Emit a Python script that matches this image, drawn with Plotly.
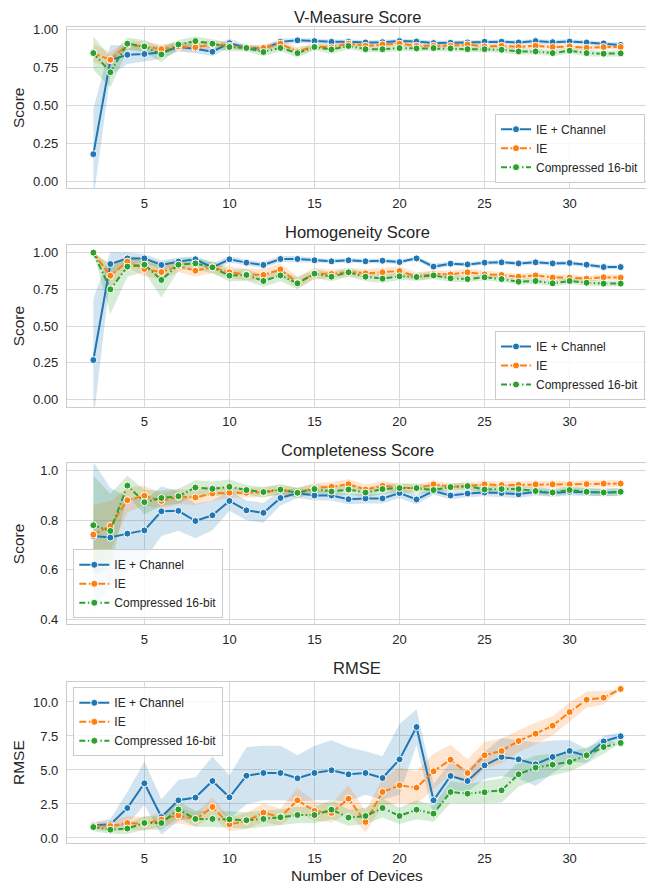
import plotly.graph_objects as go

devices = list(range(2, 34))
series_names = ["IE + Channel", "IE", "Compressed 16-bit"]
panel_titles = ["V-Measure Score", "Homogeneity Score", "Completeness Score", "RMSE"]
y_labels = ["Score", "Score", "Score", "RMSE"]
x_label = "Number of Devices"

# ---- V-Measure ----
v_ie_channel = [0.18, 0.80, 0.835, 0.84, 0.85, 0.886, 0.875, 0.855, 0.912, 0.88, 0.875, 0.92, 0.93, 0.925, 0.92, 0.92,
                0.916, 0.918, 0.925, 0.922, 0.912, 0.914, 0.916, 0.921, 0.921, 0.916, 0.925, 0.918, 0.922, 0.916, 0.91, 0.90]
v_ie = [0.846, 0.802, 0.901, 0.89, 0.872, 0.89, 0.884, 0.903, 0.894, 0.88, 0.88, 0.908, 0.857, 0.89, 0.884, 0.908,
        0.894, 0.903, 0.908, 0.894, 0.894, 0.894, 0.903, 0.89, 0.894, 0.886, 0.894, 0.886, 0.89, 0.881, 0.886, 0.886]
v_comp = [0.846, 0.72, 0.908, 0.89, 0.837, 0.903, 0.925, 0.908, 0.886, 0.88, 0.853, 0.88, 0.846, 0.886, 0.87, 0.893,
          0.872, 0.872, 0.879, 0.877, 0.879, 0.877, 0.872, 0.872, 0.868, 0.857, 0.857, 0.846, 0.862, 0.846, 0.842, 0.844]
v_ie_channel_ci = [0.30, 0.10, 0.06, 0.05, 0.04, 0.03, 0.03, 0.03, 0.03, 0.02, 0.02, 0.02, 0.015, 0.015, 0.015, 0.015,
                   0.015, 0.015, 0.015, 0.015, 0.015, 0.015, 0.015, 0.015, 0.015, 0.015, 0.015, 0.015, 0.015, 0.015, 0.015, 0.015]
v_ie_ci = [0.06, 0.05, 0.03, 0.03, 0.03, 0.03, 0.03, 0.03, 0.02, 0.02, 0.02, 0.02, 0.03, 0.02, 0.02, 0.02,
           0.015, 0.015, 0.015, 0.015, 0.015, 0.015, 0.015, 0.015, 0.015, 0.015, 0.015, 0.015, 0.015, 0.015, 0.015, 0.015]
v_comp_ci = [0.11, 0.10, 0.04, 0.04, 0.05, 0.03, 0.03, 0.03, 0.03, 0.02, 0.03, 0.02, 0.03, 0.02, 0.03, 0.02,
             0.02, 0.02, 0.02, 0.02, 0.02, 0.02, 0.02, 0.02, 0.02, 0.02, 0.02, 0.02, 0.02, 0.02, 0.02, 0.02]

# ---- Homogeneity ----
h_ie_channel = [0.268, 0.923, 0.961, 0.961, 0.916, 0.939, 0.955, 0.90, 0.955, 0.932, 0.916, 0.957, 0.957, 0.948, 0.941, 0.948,
                0.941, 0.945, 0.936, 0.961, 0.905, 0.925, 0.92, 0.932, 0.934, 0.927, 0.934, 0.927, 0.93, 0.918, 0.902, 0.902]
h_ie = [1.0, 0.843, 0.939, 0.889, 0.868, 0.909, 0.877, 0.90, 0.866, 0.852, 0.848, 0.886, 0.795, 0.857, 0.855, 0.868,
        0.859, 0.866, 0.875, 0.836, 0.855, 0.852, 0.866, 0.852, 0.848, 0.836, 0.845, 0.830, 0.830, 0.823, 0.832, 0.830]
h_comp = [1.0, 0.75, 0.905, 0.918, 0.814, 0.918, 0.927, 0.90, 0.843, 0.848, 0.807, 0.845, 0.791, 0.857, 0.836, 0.866,
          0.836, 0.823, 0.839, 0.834, 0.845, 0.825, 0.820, 0.832, 0.820, 0.802, 0.807, 0.791, 0.807, 0.795, 0.789, 0.789]
h_ie_channel_ci = [0.42, 0.08, 0.04, 0.03, 0.03, 0.03, 0.02, 0.03, 0.02, 0.02, 0.02, 0.02, 0.02, 0.015, 0.015, 0.015,
                   0.015, 0.015, 0.015, 0.015, 0.02, 0.015, 0.015, 0.015, 0.015, 0.015, 0.015, 0.015, 0.015, 0.015, 0.015, 0.015]
h_ie_ci = [0.0, 0.08, 0.04, 0.05, 0.05, 0.04, 0.04, 0.04, 0.04, 0.04, 0.04, 0.04, 0.04, 0.04, 0.03, 0.03,
           0.03, 0.03, 0.03, 0.03, 0.025, 0.025, 0.025, 0.025, 0.02, 0.02, 0.02, 0.02, 0.02, 0.02, 0.02, 0.02]
h_comp_ci = [0.0, 0.17, 0.07, 0.05, 0.12, 0.04, 0.04, 0.04, 0.04, 0.04, 0.04, 0.04, 0.04, 0.03, 0.03, 0.03,
             0.03, 0.03, 0.025, 0.025, 0.025, 0.025, 0.02, 0.02, 0.02, 0.02, 0.02, 0.02, 0.02, 0.02, 0.02, 0.02]

# ---- Completeness ----
c_ie_channel = [0.736, 0.73, 0.746, 0.759, 0.836, 0.838, 0.797, 0.82, 0.878, 0.84, 0.83, 0.89, 0.91, 0.90, 0.90, 0.885,
                0.888, 0.888, 0.91, 0.884, 0.918, 0.90, 0.908, 0.912, 0.91, 0.905, 0.915, 0.91, 0.915, 0.913, 0.912, 0.913]
c_ie = [0.742, 0.777, 0.881, 0.899, 0.878, 0.895, 0.892, 0.908, 0.911, 0.911, 0.912, 0.924, 0.911, 0.931, 0.935, 0.946,
        0.924, 0.939, 0.932, 0.928, 0.945, 0.935, 0.938, 0.945, 0.942, 0.943, 0.945, 0.945, 0.945, 0.946, 0.948, 0.948]
c_comp = [0.78, 0.757, 0.94, 0.873, 0.89, 0.897, 0.932, 0.927, 0.935, 0.922, 0.914, 0.924, 0.911, 0.926, 0.916, 0.924,
          0.912, 0.926, 0.93, 0.93, 0.922, 0.934, 0.938, 0.924, 0.926, 0.926, 0.918, 0.912, 0.922, 0.915, 0.912, 0.915]
c_ie_channel_ci = [0.30, 0.20, 0.15, 0.12, 0.10, 0.08, 0.07, 0.06, 0.04, 0.04, 0.04, 0.03, 0.02, 0.02, 0.02, 0.02,
                   0.02, 0.02, 0.02, 0.02, 0.015, 0.015, 0.015, 0.015, 0.015, 0.015, 0.015, 0.015, 0.015, 0.015, 0.015, 0.015]
c_ie_ci = [0.12, 0.10, 0.05, 0.04, 0.03, 0.03, 0.03, 0.03, 0.02, 0.02, 0.02, 0.02, 0.02, 0.02, 0.02, 0.02,
           0.02, 0.02, 0.015, 0.015, 0.015, 0.015, 0.015, 0.015, 0.015, 0.015, 0.015, 0.015, 0.015, 0.015, 0.015, 0.015]
c_comp_ci = [0.20, 0.15, 0.04, 0.05, 0.03, 0.03, 0.03, 0.03, 0.03, 0.02, 0.02, 0.02, 0.02, 0.02, 0.02, 0.02,
             0.02, 0.02, 0.02, 0.02, 0.015, 0.015, 0.015, 0.015, 0.015, 0.015, 0.015, 0.015, 0.015, 0.015, 0.015, 0.015]

# ---- RMSE ----
r_ie_channel = [0.93, 1.0, 2.2, 4.02, 1.54, 2.77, 2.97, 4.19, 2.99, 4.58, 4.78, 4.78, 4.39, 4.78, 4.98, 4.68,
                4.78, 4.41, 5.78, 8.16, 2.77, 4.56, 4.19, 5.34, 5.96, 5.78, 5.42, 5.96, 6.4, 6.03, 7.1, 7.48]
r_ie = [0.88, 0.88, 1.1, 1.05, 1.35, 1.67, 1.35, 2.28, 1.0, 1.25, 1.86, 1.54, 2.77, 1.99, 1.84, 2.89,
        1.18, 3.38, 3.87, 3.7, 4.9, 5.76, 4.78, 6.08, 6.4, 7.13, 7.67, 8.26, 9.26, 10.17, 10.32, 10.96]
r_comp = [0.8, 0.61, 0.69, 1.1, 1.1, 2.1, 1.4, 1.4, 1.37, 1.3, 1.4, 1.52, 1.69, 1.69, 2.08, 1.5,
          1.62, 2.2, 1.62, 2.08, 1.79, 3.38, 3.26, 3.36, 3.5, 4.68, 5.17, 5.39, 5.59, 6.08, 6.69, 6.99]
r_ie_channel_ci = [0.2, 0.4, 1.2, 1.6, 1.3, 1.5, 1.5, 1.8, 1.6, 2.1, 2.0, 2.0, 1.7, 2.0, 2.2, 2.0,
                   1.6, 1.6, 2.6, 1.3, 1.2, 1.0, 0.8, 1.0, 1.4, 1.4, 1.6, 1.2, 0.8, 0.5, 0.4, 0.3]
r_ie_ci = [0.3, 0.4, 0.5, 0.5, 0.5, 0.6, 0.5, 0.7, 0.5, 0.6, 0.7, 0.6, 0.9, 0.7, 0.7, 1.0,
           0.8, 1.0, 1.3, 1.2, 1.3, 1.1, 1.0, 1.0, 0.9, 0.8, 0.8, 0.7, 0.7, 0.6, 0.5, 0.0]
r_comp_ci = [0.3, 0.3, 0.4, 0.5, 0.5, 0.6, 0.6, 0.6, 0.6, 0.6, 0.6, 0.6, 0.6, 0.6, 0.7, 0.6,
             0.6, 0.7, 0.6, 0.7, 0.6, 0.8, 0.7, 0.8, 0.9, 0.9, 0.9, 0.8, 0.7, 0.6, 0.5, 0.0]

panels = [
    ([v_ie_channel, v_ie, v_comp], [v_ie_channel_ci, v_ie_ci, v_comp_ci]),
    ([h_ie_channel, h_ie, h_comp], [h_ie_channel_ci, h_ie_ci, h_comp_ci]),
    ([c_ie_channel, c_ie, c_comp], [c_ie_channel_ci, c_ie_ci, c_comp_ci]),
    ([r_ie_channel, r_ie, r_comp], [r_ie_channel_ci, r_ie_ci, r_comp_ci]),
]

colors = ["#1f77b4", "#ff7f0e", "#2ca02c"]
fills = ["rgba(31,119,180,0.2)", "rgba(255,127,14,0.2)", "rgba(44,160,44,0.2)"]
dashes = ["solid", "7px,2.5px", "6px,2.5px,1.5px,2.5px"]

# layout geometry (page has an 8px body margin, compensated here)
BODY = 8
W, H = 654 - BODY, 884 - BODY
PLOT_L, PLOT_R, PLOT_T, PLOT_B = 67, 647, 27, 843   # page pixel coords
ML, MR, MT, MB = PLOT_L - BODY, 654 - PLOT_R, PLOT_T - BODY, 884 - PLOT_B
PW, PH = PLOT_R - PLOT_L, PLOT_B - PLOT_T

domains = [[0.8025, 1.0], [0.5347, 0.7328], [0.2684, 0.4653], [0.0, 0.1973]]
y_ranges = [[-0.044, 1.018], [-0.05, 1.052], [0.381, 1.03], [-0.37, 11.47]]
y_ticks = [[0, 0.25, 0.5, 0.75, 1.0], [0, 0.25, 0.5, 0.75, 1.0], [0.4, 0.6, 0.8, 1.0], [0, 2.5, 5, 7.5, 10]]
y_ticktext = [["0.00", "0.25", "0.50", "0.75", "1.00"], ["0.00", "0.25", "0.50", "0.75", "1.00"],
              ["0.4", "0.6", "0.8", "1.0"], ["0.0", "2.5", "5.0", "7.5", "10.0"]]
legend_pos = [
    dict(x=0.9966, y=0.8092, xanchor="right", yanchor="bottom"),
    dict(x=0.9966, y=0.5429, xanchor="right", yanchor="bottom"),
    dict(x=0.0109, y=0.2754, xanchor="left", yanchor="bottom"),
    dict(x=0.0109, y=0.1908, xanchor="left", yanchor="top"),
]
title_page_y = [17, 232, 450, 668]

fig = go.Figure()
for p, (vals, cis) in enumerate(panels):
    ax = "" if p == 0 else str(p + 1)
    xref, yref = "x" + ax, "y" + ax
    leg = "legend" if p == 0 else "legend" + str(p + 1)
    for s in range(3):
        up = [v + c for v, c in zip(vals[s], cis[s])]
        lo = [v - c for v, c in zip(vals[s], cis[s])]
        fig.add_trace(go.Scatter(x=devices + devices[::-1], y=up + lo[::-1], fill="toself",
                                 fillcolor=fills[s], line=dict(width=0), mode="lines",
                                 hoverinfo="skip", showlegend=False, xaxis=xref, yaxis=yref))
    for s in range(3):
        fig.add_trace(go.Scatter(x=devices, y=vals[s], mode="lines+markers", name=series_names[s],
                                 line=dict(color=colors[s], width=2, dash=dashes[s]),
                                 marker=dict(size=7, color=colors[s], line=dict(color="white", width=1)),
                                 legend=leg, xaxis=xref, yaxis=yref))

    dom = domains[p]
    fig.layout["xaxis" + ax] = dict(domain=[0, 1], anchor=yref, range=[0.45, 34.55],
                                    tickvals=[5, 10, 15, 20, 25, 30], showgrid=True, gridcolor="#d9d9d9",
                                    gridwidth=1, zeroline=False, showline=True, mirror=True,
                                    linecolor="#cccccc", linewidth=1.3, ticks="outside", ticklen=3,
                                    tickcolor="rgba(0,0,0,0)",
                                    tickfont=dict(size=13, color="#262626"))
    fig.layout["yaxis" + ax] = dict(domain=dom, anchor=xref, range=y_ranges[p],
                                    tickvals=y_ticks[p], ticktext=y_ticktext[p], showgrid=True,
                                    gridcolor="#d9d9d9", gridwidth=1, zeroline=False, showline=True,
                                    mirror=True, linecolor="#cccccc", linewidth=1.3, ticks="outside",
                                    ticklen=5, tickcolor="rgba(0,0,0,0)",
                                    tickfont=dict(size=13, color="#262626"))
    fig.layout[leg] = dict(**legend_pos[p], bgcolor="rgba(255,255,255,0.8)", bordercolor="#cccccc",
                           borderwidth=1, font=dict(size=12, color="#262626"), tracegroupgap=0,
                           itemwidth=30)
    fig.add_annotation(text=panel_titles[p], x=0.5, y=(PLOT_B - title_page_y[p]) / PH,
                       xref="paper", yref="paper", xanchor="center", yanchor="middle", showarrow=False,
                       font=dict(size=16.5, color="#262626"))
    fig.add_annotation(text=y_labels[p], x=(18.5 - PLOT_L) / PW, y=(dom[0] + dom[1]) / 2,
                       xref="paper", yref="paper", xanchor="center", yanchor="middle",
                       textangle=-90, showarrow=False, font=dict(size=15.5, color="#262626"))

fig.add_annotation(text=x_label, x=0.5, y=(PLOT_B - 875) / PH, xref="paper", yref="paper",
                   xanchor="center", yanchor="middle", showarrow=False,
                   font=dict(size=15.5, color="#262626"))

fig.update_layout(width=W, height=H, margin=dict(l=ML, r=MR, t=MT, b=MB),
                  plot_bgcolor="white", paper_bgcolor="white",
                  font=dict(family="Liberation Sans, Arial, sans-serif", color="#262626"))

fig.write_html("out.html")
